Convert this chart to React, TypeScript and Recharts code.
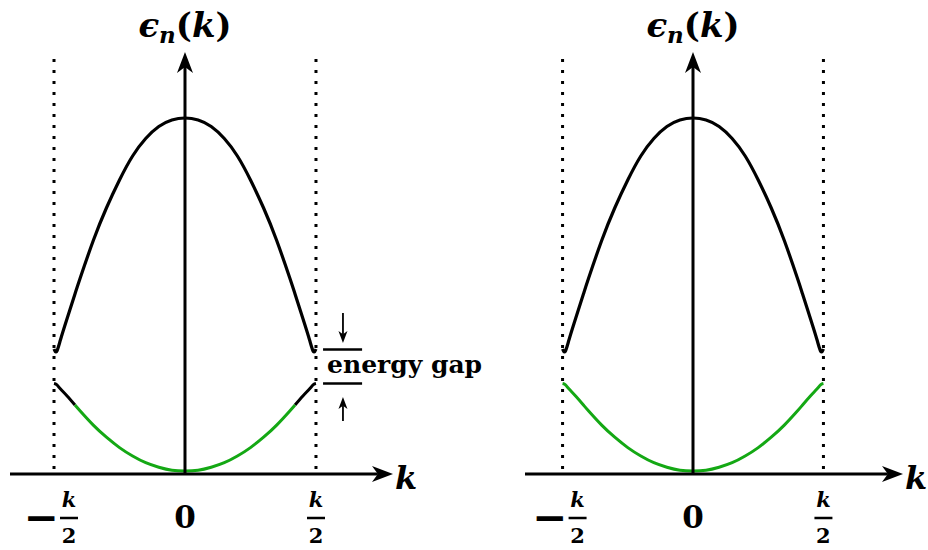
import { LineChart, Line, XAxis, YAxis, ReferenceLine } from "recharts"

// wave vector, zone boundaries at ±0.5
const kValues = [
  -0.5, -0.49, -0.475, -0.45, -0.42, -0.4, -0.35, -0.3, -0.25, -0.2, -0.15, -0.1, -0.05, 0,
  0.05, 0.1, 0.15, 0.2, 0.25, 0.3, 0.35, 0.4, 0.42, 0.45, 0.475, 0.49, 0.5,
]

// upper band (n = 2)
const upperBand = [
  1.25, 1.225, 1.345, 1.555, 1.8, 1.96, 2.335, 2.66, 2.94, 3.18, 3.355, 3.475, 3.54, 3.56,
  3.54, 3.475, 3.355, 3.18, 2.94, 2.66, 2.335, 1.96, 1.8, 1.555, 1.345, 1.225, 1.25,
]

// lower band (n = 1)
const lowerBand = [
  0.905, 0.893, 0.85, 0.78, 0.69, 0.63, 0.489, 0.368, 0.264, 0.18, 0.113, 0.068, 0.038, 0.03,
  0.038, 0.068, 0.113, 0.18, 0.264, 0.368, 0.489, 0.63, 0.69, 0.78, 0.85, 0.893, 0.905,
]

// lower band split: black near the zone edges, green in the middle
const lowerEdges = [
  0.905, 0.893, 0.85, 0.78, 0.69, null, null, null, null, null, null, null, null, null,
  null, null, null, null, null, null, null, null, 0.69, 0.78, 0.85, 0.893, 0.905,
]
const lowerCentre = [
  null, null, null, null, 0.69, 0.63, 0.489, 0.368, 0.264, 0.18, 0.113, 0.068, 0.038, 0.03,
  0.038, 0.068, 0.113, 0.18, 0.264, 0.368, 0.489, 0.63, 0.69, null, null, null, null,
]

const tickValues = [-0.5, 0, 0.5]
const tickLabels = ["−k/2", "0", "k/2"]

const SERIF = "'DejaVu Serif', serif"
const GREEN = "#14a814"
const Y_MAX = 4.22

function arrowHead(x1: number, y1: number, x2: number, y2: number, len: number, half: number) {
  const d = Math.hypot(x2 - x1, y2 - y1) || 1
  const ux = (x2 - x1) / d
  const uy = (y2 - y1) / d
  const bx = x2 - ux * len
  const by = y2 - uy * len
  const nx = x2 - ux * len * 0.72
  const ny = y2 - uy * len * 0.72
  const points = `${x2},${y2} ${bx - uy * half},${by + ux * half} ${nx},${ny} ${bx + uy * half},${by - ux * half}`
  return { points, nx, ny }
}

function Arrow({ x1, y1, x2, y2, width = 3, len = 21, half = 8 }: any) {
  const h = arrowHead(x1, y1, x2, y2, len, half)
  return (
    <g>
      <line x1={x1} y1={y1} x2={h.nx} y2={h.ny} stroke="#000" strokeWidth={width} />
      <polygon points={h.points} fill="#000" />
    </g>
  )
}

function KTick({ x, y, payload }: any) {
  const label = tickLabels[tickValues.indexOf(payload.value)] ?? ""
  if (!label.includes("/")) {
    return (
      <text x={x} y={y + 54} textAnchor="middle" fontFamily={SERIF} fontWeight="bold" fontSize={31}>
        {label}
      </text>
    )
  }
  const negative = label.startsWith("−")
  const [num, den] = label.replace("−", "").split("/")
  const cx = negative ? x + 15 : x
  return (
    <g>
      {negative && (
        <text x={x - 13} y={y + 58} textAnchor="middle" fontFamily={SERIF} fontWeight="bold" fontSize={42}>
          −
        </text>
      )}
      <text x={cx} y={y + 33} textAnchor="middle" fontFamily={SERIF} fontWeight="bold" fontStyle="italic" fontSize={21}>
        {num}
      </text>
      <line x1={cx - 9} x2={cx + 9} y1={y + 44} y2={y + 44} stroke="#000" strokeWidth={2.5} />
      <text x={cx} y={y + 69} textAnchor="middle" fontFamily={SERIF} fontWeight="bold" fontSize={21}>
        {den}
      </text>
    </g>
  )
}

function BandPanel({ width, margin, xDomain, splitLower, showGap }: any) {
  const data = kValues.map((k, i) => ({
    k,
    upper: upperBand[i],
    lower: lowerBand[i],
    lowerEdge: lowerEdges[i],
    lowerMid: lowerCentre[i],
  }))

  return (
    <LineChart width={width} height={550} data={data} margin={margin}>
      <XAxis
        type="number"
        dataKey="k"
        domain={xDomain}
        allowDataOverflow
        ticks={tickValues}
        interval={0}
        axisLine={false}
        tickLine={false}
        tickSize={0}
        tickMargin={0}
        height={70}
        tick={(p: any) => <KTick {...p} />}
      />
      <YAxis type="number" domain={[0, Y_MAX]} allowDataOverflow hide />

      {/* zone boundaries */}
      <ReferenceLine
        segment={[{ x: -0.5, y: 0.05 }, { x: -0.5, y: 4.21 }]}
        stroke="#000"
        strokeWidth={3}
        strokeDasharray="3 8"
      />
      <ReferenceLine
        segment={[{ x: 0.5, y: 0.05 }, { x: 0.5, y: 4.21 }]}
        stroke="#000"
        strokeWidth={3}
        strokeDasharray="3 8"
      />

      {splitLower ? (
        <Line dataKey="lowerEdge" type="natural" stroke="#000" strokeWidth={3} dot={false} activeDot={false} isAnimationActive={false} />
      ) : null}
      <Line
        dataKey={splitLower ? "lowerMid" : "lower"}
        type="natural"
        stroke={GREEN}
        strokeWidth={3}
        dot={false}
        activeDot={false}
        isAnimationActive={false}
      />
      <Line dataKey="upper" type="natural" stroke="#000" strokeWidth={3.2} dot={false} activeDot={false} isAnimationActive={false} />

      {/* k axis */}
      <ReferenceLine
        segment={[{ x: xDomain[0], y: 0 }, { x: xDomain[1], y: 0 }]}
        shape={(p: any) => (
          <g>
            <Arrow x1={p.x1} y1={p.y1} x2={p.x2} y2={p.y2} />
            <text x={p.x2 + 2} y={p.y2 + 15} fontFamily={SERIF} fontWeight="bold" fontStyle="italic" fontSize={32}>
              k
            </text>
          </g>
        )}
      />
      {/* energy axis */}
      <ReferenceLine
        segment={[{ x: 0, y: 0 }, { x: 0, y: Y_MAX }]}
        shape={(p: any) => (
          <g>
            <Arrow x1={p.x1} y1={p.y1} x2={p.x2} y2={p.y2} />
            <text x={p.x2} y={p.y2 - 15} textAnchor="middle" fontFamily={SERIF} fontWeight="bold" fontSize={34}>
              <tspan fontStyle="italic">ϵ</tspan>
              <tspan fontStyle="italic" fontSize={23} dy={6}>n</tspan>
              <tspan dy={-6}>(</tspan>
              <tspan fontStyle="italic">k</tspan>
              <tspan>)</tspan>
            </text>
          </g>
        )}
      />

      {showGap ? (
        <>
          <ReferenceLine
            segment={[{ x: 0.527, y: 1.245 }, { x: 0.676, y: 1.245 }]}
            shape={(p: any) => (
              <g>
                <line x1={p.x1} y1={p.y1} x2={p.x2} y2={p.y2} stroke="#000" strokeWidth={2.5} />
                <text x={p.x1 + 4} y={p.y1 + 23} fontFamily={SERIF} fontWeight="bold" fontSize={25}>
                  energy gap
                </text>
              </g>
            )}
          />
          <ReferenceLine segment={[{ x: 0.527, y: 0.905 }, { x: 0.676, y: 0.905 }]} stroke="#000" strokeWidth={2.5} />
          <ReferenceLine
            segment={[{ x: 0.603, y: 1.61 }, { x: 0.603, y: 1.31 }]}
            shape={(p: any) => <Arrow x1={p.x1} y1={p.y1} x2={p.x2} y2={p.y2} width={1.8} len={12} half={4.5} />}
          />
          <ReferenceLine
            segment={[{ x: 0.603, y: 0.53 }, { x: 0.603, y: 0.77 }]}
            shape={(p: any) => <Arrow x1={p.x1} y1={p.y1} x2={p.x2} y2={p.y2} width={1.8} len={12} half={4.5} />}
          />
        </>
      ) : null}
    </LineChart>
  )
}

export default function App() {
  return (
    <div style={{ position: "absolute", left: 0, top: 0, width: 928, height: 550, background: "#fff" }}>
      <div style={{ position: "absolute", left: 0, top: 0 }}>
        <BandPanel
          width={500}
          margin={{ top: 52, right: 107, bottom: 6, left: 10 }}
          xDomain={[-0.668, 0.794]}
          splitLower
          showGap
        />
      </div>
      <div style={{ position: "absolute", left: 500, top: 0 }}>
        <BandPanel
          width={428}
          margin={{ top: 52, right: 25, bottom: 6, left: 25 }}
          xDomain={[-0.644, 0.805]}
          splitLower={false}
          showGap={false}
        />
      </div>
    </div>
  )
}
